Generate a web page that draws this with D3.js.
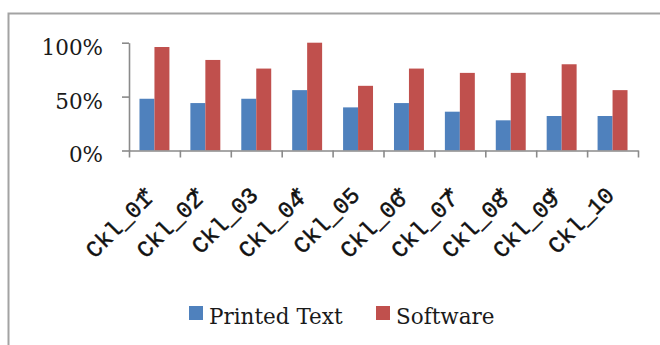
<!DOCTYPE html>
<html>
<head>
<meta charset="utf-8">
<script src="https://cdn.jsdelivr.net/npm/d3@7"></script>
<style>
  html, body { margin: 0; padding: 0; background: #fff; }
  svg { display: block; }
</style>
</head>
<body>
<svg id="chart" width="660" height="345"></svg>
<script>
// Checklist ids and whether they carry a star
const categories = ["Ckl_01", "Ckl_02", "Ckl_03", "Ckl_04", "Ckl_05", "Ckl_06", "Ckl_07", "Ckl_08", "Ckl_09", "Ckl_10"];
const starred = [true, true, false, true, false, true, true, true, true, false];
const seriesNames = ["Printed Text", "Software"];
const printedText = [0.48, 0.44, 0.48, 0.56, 0.40, 0.44, 0.36, 0.28, 0.32, 0.32];
const software = [0.96, 0.84, 0.76, 1.00, 0.60, 0.76, 0.72, 0.72, 0.80, 0.56];
const yTicks = [0, 0.5, 1];
const colors = ["#4F81BD", "#C0504D"];

const svg = d3.select("#chart");
const axisColor = "#8a8a8a";
const serif = "'DejaVu Serif', serif";

// outer frame (right and bottom edges fall outside the view)
svg.append("rect")
  .attr("x", 8.5).attr("y", 13.5)
  .attr("width", 800).attr("height", 500)
  .attr("fill", "none").attr("stroke", "#a3a3a3").attr("stroke-width", 2);

const plotLeft = 129, plotRight = 638, plotTop = 42.7, plotBottom = 150.5;

const x = d3.scaleBand().domain(categories).range([plotLeft, plotRight]).paddingInner(0).paddingOuter(0);
const xSub = d3.scaleBand().domain(seriesNames).range([0, x.bandwidth()]).paddingInner(0).paddingOuter(0.7);
const y = d3.scaleLinear().domain([0, 1]).range([plotBottom, plotTop]);
const xEdges = d3.scaleLinear().domain([0, categories.length]).range([plotLeft, plotRight]);

const rows = categories.map((c, i) => ({ c, vals: [printedText[i], software[i]] }));

// bars
const groups = svg.append("g").selectAll("g").data(rows).join("g")
  .attr("transform", d => `translate(${x(d.c)},0)`);
groups.selectAll("rect")
  .data(d => d.vals.map((v, k) => ({ v, k })))
  .join("rect")
  .attr("x", d => xSub(seriesNames[d.k]))
  .attr("width", xSub.bandwidth())
  .attr("y", d => y(d.v))
  .attr("height", d => y(0) - y(d.v))
  .attr("fill", d => colors[d.k]);

// y axis
const yAxis = svg.append("g").attr("transform", `translate(${plotLeft},0)`)
  .call(d3.axisLeft(y).tickValues(yTicks).tickFormat(d3.format(".0%")).tickSize(7).tickSizeOuter(0).tickPadding(19));
yAxis.selectAll("path, line").attr("stroke", axisColor).attr("stroke-width", 1.6);
yAxis.selectAll("text")
  .attr("font-family", serif).attr("font-size", 21.5).attr("fill", "#1a1a1a")
  .attr("dy", "0.53em");

// x axis: ticks at category boundaries
const xAxis = svg.append("g").attr("transform", `translate(0,${plotBottom})`)
  .call(d3.axisBottom(xEdges).tickValues(d3.range(categories.length + 1)).tickFormat("").tickSize(7).tickSizeOuter(0));
xAxis.selectAll("path, line").attr("stroke", axisColor).attr("stroke-width", 1.6);

// rotated category labels
const labels = svg.append("g").selectAll("text").data(categories).join("text")
  .attr("transform", c => `translate(${x(c) + x.bandwidth() / 2 + 3},${plotBottom + 46}) rotate(-45)`)
  .attr("text-anchor", "end")
  .attr("font-family", "'Liberation Mono', 'Courier New', monospace")
  .attr("font-size", 23)
  .attr("fill", "#111")
  .attr("stroke", "#111").attr("stroke-width", 0.5);
labels.append("tspan").text(c => c);
labels.filter((c, i) => starred[i]).append("tspan").attr("dx", "-0.35em").attr("dy", "-0.05em").text("*");

// legend
const legend = svg.append("g").selectAll("g").data(seriesNames).join("g")
  .attr("transform", (d, i) => `translate(${i === 0 ? 189 : 376},306)`);
legend.append("rect").attr("width", 14).attr("height", 14).attr("fill", (d, i) => colors[i]);
legend.append("text")
  .attr("x", 20).attr("y", 18)
  .attr("font-family", serif).attr("font-size", 21.5).attr("fill", "#1a1a1a")
  .text(d => d);
</script>
</body>
</html>
